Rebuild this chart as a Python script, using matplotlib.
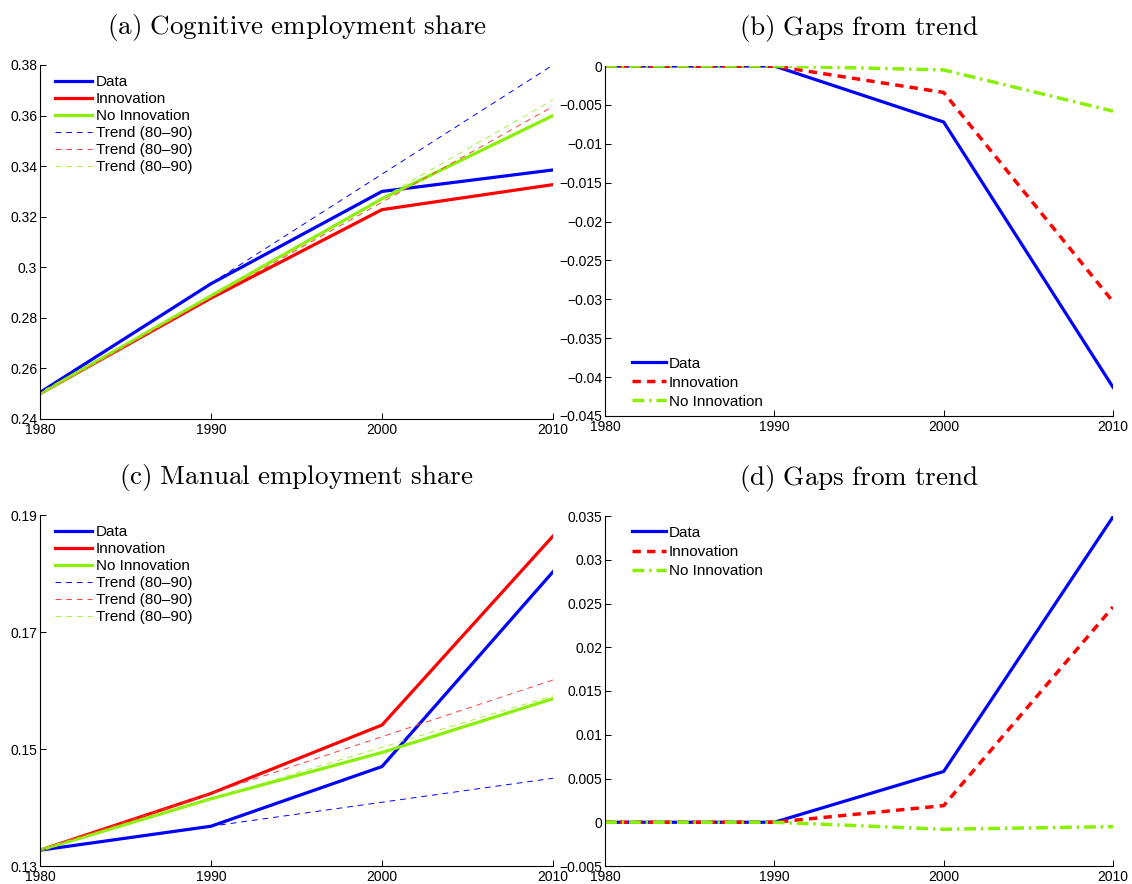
import numpy as np
import matplotlib
matplotlib.use("Agg")
import matplotlib.pyplot as plt
from matplotlib.ticker import FixedLocator, FuncFormatter

plt.rcParams['font.family'] = ['Liberation Sans', 'DejaVu Sans']
plt.rcParams['mathtext.fontset'] = 'cm'

years = [1980, 1990, 2000, 2010]

# (a) cognitive employment share
cog_data = [0.2505, 0.2935, 0.3300, 0.3385]
cog_innov = [0.2500, 0.2878, 0.3228, 0.3327]
cog_noinnov = [0.2500, 0.2887, 0.3271, 0.3600]
cog_trend_data = [0.2505, 0.2935, 0.3367, 0.3800]
cog_trend_innov = [0.2500, 0.2878, 0.3257, 0.3636]
cog_trend_noinnov = [0.2500, 0.2887, 0.3275, 0.3662]

# (b) gaps from trend, cognitive
gap_cog_data = [0, 0, -0.0072, -0.0413]
gap_cog_innov = [0, 0, -0.0034, -0.0303]
gap_cog_noinnov = [0, 0, -0.0005, -0.0058]

# (c) manual employment share
man_data = [0.1327, 0.1368, 0.1470, 0.1803]
man_innov = [0.1327, 0.1424, 0.1541, 0.1864]
man_noinnov = [0.1327, 0.1415, 0.1494, 0.1586]
man_trend_data = [0.1327, 0.1368, 0.1409, 0.1450]
man_trend_innov = [0.1327, 0.1424, 0.1521, 0.1618]
man_trend_noinnov = [0.1327, 0.1415, 0.1503, 0.1591]

# (d) gaps from trend, manual
gap_man_data = [0, 0, 0.0058, 0.0349]
gap_man_innov = [0, 0, 0.0019, 0.0246]
gap_man_noinnov = [0, 0, -0.0008, -0.0005]

titles = ["(a) Cognitive employment share", "(b) Gaps from trend",
          "(c) Manual employment share", "(d) Gaps from trend"]
share_labels = ["Data", "Innovation", "No Innovation",
                "Trend (80\u201390)", "Trend (80\u201390)", "Trend (80\u201390)"]
gap_labels = ["Data", "Innovation", "No Innovation"]

BLUE = "#0000ff"
RED = "#ff0000"
GREEN = "#88f000"

W, H = 1132, 884
fig = plt.figure(figsize=(W / 100, H / 100), dpi=100)


def px_axes(left, top, right, bottom):
    return fig.add_axes([left / W, 1 - bottom / H, (right - left) / W, (bottom - top) / H])


def fmt(v, pos):
    v = round(v, 6) + 0.0
    if abs(v) < 1e-9:
        return "0"
    return f"{v:g}".replace("-", "\u2212")


def style(ax, yticks, title):
    ax.set_xlim(1980, 2010)
    ax.set_ylim(yticks[0], yticks[-1])
    ax.xaxis.set_major_locator(FixedLocator(years))
    ax.yaxis.set_major_locator(FixedLocator(yticks))
    ax.yaxis.set_major_formatter(FuncFormatter(fmt))
    for s in ["top", "right"]:
        ax.spines[s].set_visible(False)
    for s in ["left", "bottom"]:
        ax.spines[s].set_linewidth(0.8)
    ax.tick_params(direction="in", length=4, width=0.7, labelsize=10, pad=2)
    ax.tick_params(axis="x", pad=3)
    ax.set_title(r"$\mathrm{" + title.replace(" ", r"\ ") + "}$", fontsize=19.5, pad=22)


def share_panel(ax, data, innov, noinnov, tdata, tinnov, tnoinnov, yticks, title):
    ax.plot(years, data, color=BLUE, lw=2.3)
    ax.plot(years, innov, color=RED, lw=2.3)
    ax.plot(years, noinnov, color=GREEN, lw=2.3)
    ax.plot([years[0], years[-1]], [tdata[0], tdata[-1]], color=BLUE, lw=0.7, dashes=(6, 5))
    ax.plot([years[0], years[-1]], [tinnov[0], tinnov[-1]], color="#ff4040", lw=0.7, dashes=(6, 5))
    ax.plot([years[0], years[-1]], [tnoinnov[0], tnoinnov[-1]], color="#a8f040", lw=0.7, dashes=(6, 5))
    style(ax, yticks, title)
    ax.legend(share_labels, loc="upper left", bbox_to_anchor=(0.02, 0.985), frameon=False,
              fontsize=11, handlelength=2.4, handletextpad=0.3, labelspacing=0.2,
              borderpad=0.3, borderaxespad=0)


def gap_panel(ax, data, innov, noinnov, yticks, title, loc):
    ax.plot(years, data, color=BLUE, lw=2.3)
    ax.plot(years, innov, color=RED, lw=2.5, dashes=(2.4, 1.8))
    ax.plot(years, noinnov, color=GREEN, lw=2.5, dashes=(3.4, 1.4, 0.7, 1.4))
    style(ax, yticks, title)
    anchor = (0.045, 0.008) if loc == "lower left" else (0.045, 0.985)
    ax.legend(gap_labels, loc=loc, bbox_to_anchor=anchor,
              frameon=False, fontsize=11, handlelength=2.2, handletextpad=0.2,
              labelspacing=0.33, borderpad=0.3, borderaxespad=0)


ax_a = px_axes(40, 65, 553, 419)
ax_b = px_axes(605, 66, 1113, 416)
ax_c = px_axes(40, 515, 553, 866)
ax_d = px_axes(605, 516, 1113, 866)

share_panel(ax_a, cog_data, cog_innov, cog_noinnov, cog_trend_data, cog_trend_innov,
            cog_trend_noinnov, np.round(np.arange(0.24, 0.381, 0.02), 2), titles[0])
gap_panel(ax_b, gap_cog_data, gap_cog_innov, gap_cog_noinnov,
          np.round(np.arange(-0.045, 0.0001, 0.005), 3), titles[1], "lower left")
share_panel(ax_c, man_data, man_innov, man_noinnov, man_trend_data, man_trend_innov,
            man_trend_noinnov, [0.13, 0.15, 0.17, 0.19], titles[2])
gap_panel(ax_d, gap_man_data, gap_man_innov, gap_man_noinnov,
          np.round(np.arange(-0.005, 0.0351, 0.005), 3), titles[3], "upper left")

fig.savefig("out.png", dpi=100)
